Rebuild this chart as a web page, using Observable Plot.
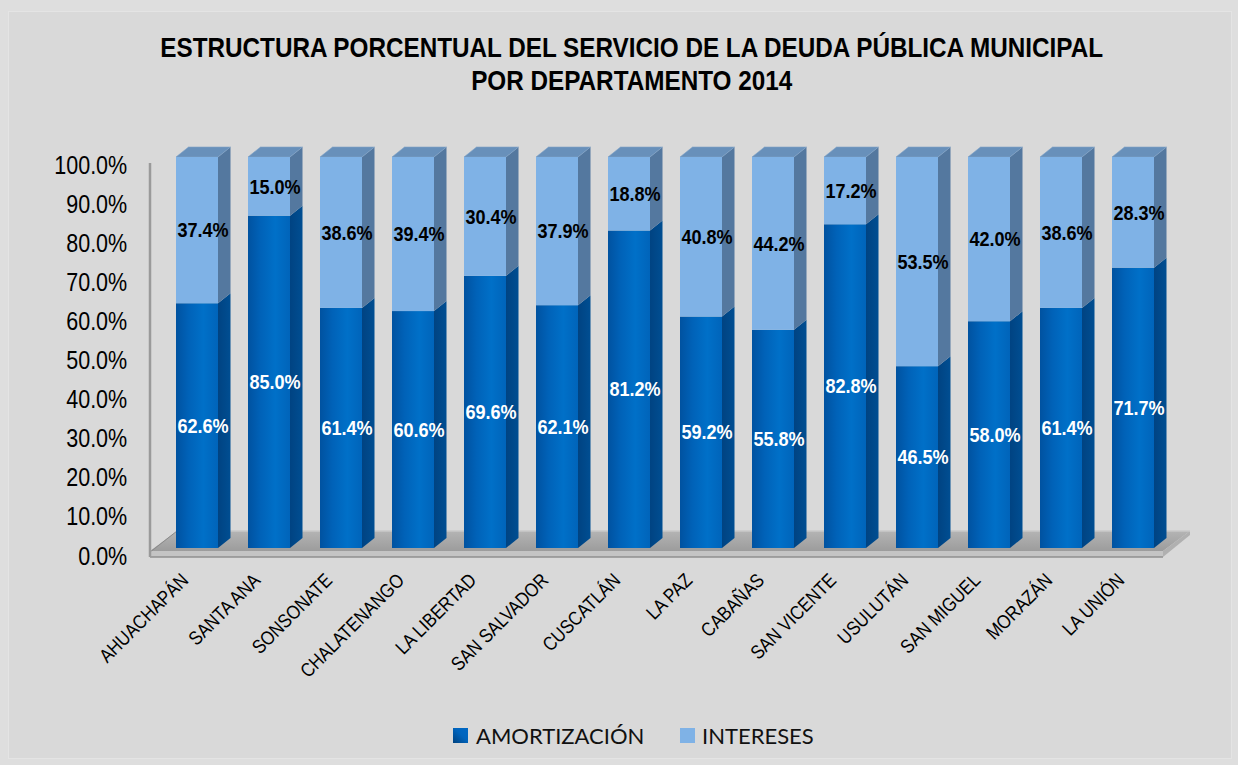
<!DOCTYPE html>
<html><head><meta charset="utf-8">
<script src="https://cdn.jsdelivr.net/npm/d3@7"></script>
<script src="https://cdn.jsdelivr.net/npm/@observablehq/plot@0.6"></script>
<style>
body{margin:0;background:#dedede;width:1238px;height:765px;overflow:hidden;position:relative;}
#frame{position:absolute;left:8px;top:11px;width:1224px;height:748px;background:#d9d9d9;border:1px solid #e4e4e4;box-sizing:border-box}
#title{position:absolute;left:20px;top:31px;width:1218px;text-align:center;font-family:"Liberation Sans",Arial,sans-serif;font-weight:bold;font-size:28px;line-height:33px;color:#000;transform:scaleX(0.867);transform-origin:629px 0}
#chart{position:absolute;left:0;top:120px}
.lg{position:absolute;font-family:Lato,"Open Sans",sans-serif;font-size:22px;color:#111;line-height:22px}
.sq{position:absolute;width:15px;height:15px}
</style></head>
<body>
<div id="frame"></div>
<div id="title">ESTRUCTURA PORCENTUAL DEL SERVICIO DE LA DEUDA PÚBLICA MUNICIPAL<br>POR DEPARTAMENTO 2014</div>
<div id="chart"></div>
<div class="sq" style="left:453px;top:728px;background:linear-gradient(45deg,#00427f,#0064bd 55%,#0068c4)"></div>
<div class="lg" style="left:476px;top:725px">AMORTIZACIÓN</div>
<div class="sq" style="left:680px;top:728px;background:#7fb2e6"></div>
<div class="lg" style="left:702px;top:725px">INTERESES</div>
<script>
const categories = ["AHUACHAPÁN","SANTA ANA","SONSONATE","CHALATENANGO","LA LIBERTAD","SAN SALVADOR","CUSCATLÁN","LA PAZ","CABAÑAS","SAN VICENTE","USULUTÁN","SAN MIGUEL","MORAZÁN","LA UNIÓN"];
const amortizacion = [62.6,85.0,61.4,60.6,69.6,62.1,81.2,59.2,55.8,82.8,46.5,58.0,61.4,71.7];
const intereses = [37.4,15.0,38.6,39.4,30.4,37.9,18.8,40.8,44.2,17.2,53.5,42.0,38.6,28.3];
const yTicks = [0,10,20,30,40,50,60,70,80,90,100];
const series = ["AMORTIZACIÓN","INTERESES"];

const am = categories.map((d,i)=>({dept:d, serie:series[0], y1:0, y2:amortizacion[i], v:amortizacion[i]}));
const it = categories.map((d,i)=>({dept:d, serie:series[1], y1:amortizacion[i], y2:amortizacion[i]+intereses[i], v:intereses[i]}));
const segs = am.concat(it);

const font = '"Liberation Sans",Arial,sans-serif';
const DX = 12.5, DY = 10, PAD = 0.423, NARROW = 0.86;

function threeD(index, scales, values, dims) {
  const x = scales.x, y = scales.y;
  let bw = typeof x.bandwidth === "function" ? x.bandwidth() : x.bandwidth;
  if (!(bw > 0)) bw = (x(categories[1]) - x(categories[0])) * (1 - PAD);
  const g = d3.create("svg:g");
  const defs = g.append("defs");
  const ga = defs.append("linearGradient").attr("id","gAm").attr("x1",0).attr("x2",1).attr("y1",0).attr("y2",0);
  ga.append("stop").attr("offset","0%").attr("stop-color","#0052a0");
  ga.append("stop").attr("offset","30%").attr("stop-color","#0062b8");
  ga.append("stop").attr("offset","65%").attr("stop-color","#0070c8");
  ga.append("stop").attr("offset","100%").attr("stop-color","#0064ba");
  const gs = defs.append("linearGradient").attr("id","gSide").attr("x1",0).attr("x2",1).attr("y1",0).attr("y2",0);
  gs.append("stop").attr("offset","0%").attr("stop-color","#004382");
  gs.append("stop").attr("offset","100%").attr("stop-color","#004e92");
  const gf = defs.append("linearGradient").attr("id","gFloor").attr("x1",0).attr("x2",0).attr("y1",0).attr("y2",1);
  gf.append("stop").attr("offset","0%").attr("stop-color","#b4b4b4");
  gf.append("stop").attr("offset","100%").attr("stop-color","#9c9c9c");

  // floor & wall
  const y0 = y(0), yTop = y(100);
  const L = x(categories[0]) - 26, R = x(categories[categories.length-1]) + bw + 9;
  const F = y0 + 3, B = y0 - 17, T = 6, D = 27;
  const P = pts => pts.map(p => p.join(",")).join(" ");
  g.append("polygon").attr("points", P([[L,F],[L+D,B],[R+D,B],[R,F]])).attr("fill","url(#gFloor)");
  g.append("polygon").attr("points", P([[L,F],[R,F],[R,F+T],[L,F+T]])).attr("fill","#c4c4c4");
  g.append("polygon").attr("points", P([[R,F],[R+D,B],[R+D,B+T-2],[R,F+T]])).attr("fill","#b0b0b0");
  g.append("line").attr("x1",L).attr("x2",R).attr("y1",F+T).attr("y2",F+T).attr("stroke","#8f8f8f").attr("stroke-width",1.5);
  g.append("line").attr("x1",L+D).attr("x2",R+D).attr("y1",B).attr("y2",B).attr("stroke","#c9c9c9").attr("stroke-width",1.5);
  g.append("line").attr("x1",L).attr("x2",L).attr("y1",yTop+6).attr("y2",F+T).attr("stroke","#9a9a9a").attr("stroke-width",2.5);
  g.append("line").attr("x1",L+1.5).attr("x2",L+D).attr("y1",F).attr("y2",B).attr("stroke","#8a8a8a").attr("stroke-width",1);

  // side faces and tops
  for (const s of segs) {
    const xr = x(s.dept) + bw, ya = y(s.y1), yb = y(s.y2);
    const isAm = s.serie === series[0];
    g.append("polygon").attr("points", P([[xr,ya],[xr+DX,ya-DY],[xr+DX,yb-DY],[xr,yb]]))
      .attr("fill", isAm ? "url(#gSide)" : "#54789f");
    if (!isAm) {
      const xl = x(s.dept);
      g.append("polygon").attr("points", P([[xl,yb],[xl+DX,yb-DY],[xr+DX,yb-DY],[xr,yb]]))
        .attr("fill","#6890ba").attr("stroke","#7fa3c8").attr("stroke-width",0.6);
    }
  }
  return g.node();
}

const plot = Plot.plot({
  width: 1238, height: 590,
  marginLeft: 143.7, marginRight: 52.4, marginTop: 37, marginBottom: 162,
  style: {background: "transparent", color: "#000", overflow: "visible"},
  x: {domain: categories, padding: PAD, axis: null},
  y: {domain: [0, 100], axis: null},
  marks: [
    threeD,
    Plot.barY(am, {x: "dept", y1: "y1", y2: "y2", fill: "url(#gAm)", inset: 0}),
    Plot.barY(it, {x: "dept", y1: "y1", y2: "y2", fill: "#7fb2e6", inset: 0}),
    Plot.axisY({ticks: yTicks, tickFormat: d => d.toFixed(1) + "%", tickSize: 0, tickPadding: 17, dy: 8,
      fontSize: 25, fontFamily: font, fill: "#000"}),
    Plot.text(categories, {x: d => d, frameAnchor: "bottom", rotate: -45, textAnchor: "end",
      dx: -8, dy: 33, fontSize: 19.5, fontFamily: font, fill: "#000"}),
    Plot.text(am, {x: "dept", y: d => (d.y1 + d.y2) / 2, text: d => d.v.toFixed(1) + "%", dx: 5.5,
      fontSize: 21, fontWeight: "bold", fontFamily: font, fill: "#fff"}),
    Plot.text(it, {x: "dept", y: d => (d.y1 + d.y2) / 2, text: d => d.v.toFixed(1) + "%", dx: 5.5,
      fontSize: 21, fontWeight: "bold", fontFamily: font, fill: "#000"})
  ]
});
document.getElementById("chart").appendChild(plot);
// condense text horizontally (Arial Narrow look) keeping each text's anchor
d3.select(plot).selectAll("text").each(function() {
  const len = this.getComputedTextLength();
  if (len > 0) {
    this.setAttribute("textLength", (len * NARROW).toFixed(2));
    this.setAttribute("lengthAdjust", "spacingAndGlyphs");
  }
});
</script>
</body></html>
